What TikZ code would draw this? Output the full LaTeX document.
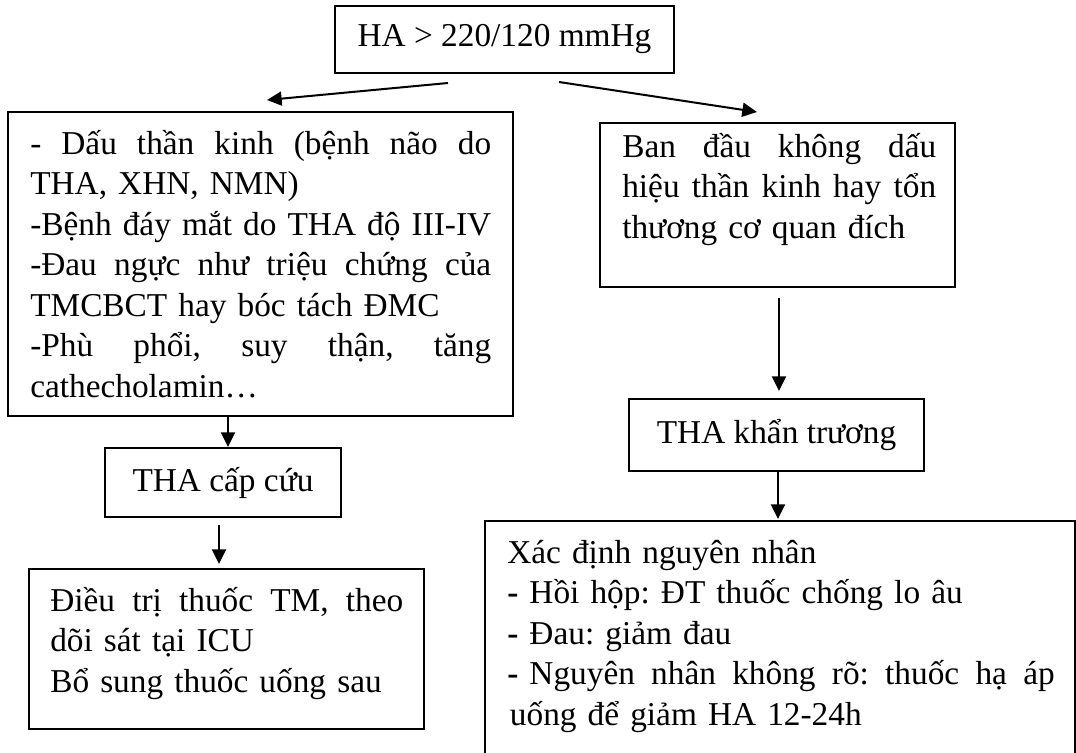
\documentclass[tikz,border=0pt]{standalone}
\usepackage{fontspec}
\setmainfont{Liberation Serif}
\usetikzlibrary{arrows.meta,fit}
\frenchspacing
\tikzset{
  box/.style={draw=black, line width=1.1pt, inner sep=0pt},
  lbl/.style={inner sep=0pt, font=\fontsize{25pt}{30.4pt}\selectfont\frenchspacing},
  para/.style={lbl, anchor=base west, align=left},
  arr/.style={line width=1.5pt, -{Triangle[length=11pt,width=10.5pt]}},
}
\begin{document}
\begin{tikzpicture}[x=0.75pt,y=-0.75pt]
\clip (0,0) rectangle (1076,753);
\fill[white] (0,0) rectangle (1076,753);
% boxes
\node[box, fit={(335,6) (674,73)}] (top) {};
\node[box, fit={(8,112) (513,416)}] (lbox) {};
\node[box, fit={(600,123) (955,287)}] (rbox) {};
\node[box, fit={(105,448) (341,517)}] (cc) {};
\node[box, fit={(629,399) (924,471)}] (kt) {};
\node[box, fit={(29,569) (424,729)}] (lbot) {};
\node[box, fit={(485,521) (1075,800)}] (rbot) {};
% texts
\node[lbl] (ttop) at (top.center) {HA > 220/120 mmHg};
\node[lbl] (tcc) at (cc.center) {THA cấp cứu};
\node[lbl] (tkt) at (kt.center) {THA khẩn trương};
\node[para, text width=345.75pt] (tlbox) at (30,154) {-\hfill Dấu\hfill thần\hfill kinh\hfill (bệnh\hfill não\hfill do\\
THA, XHN, NMN)\\
\mbox{-Bệnh đáy mắt do THA độ III-IV}\\
-Đau\hfill ngực\hfill như\hfill triệu\hfill chứng\hfill của\\
TMCBCT hay bóc tách ĐMC\\
-Phù\hfill phổi,\hfill suy\hfill thận,\hfill tăng\\
cathecholamin…};
\node[para, text width=235.5pt] (trbox) at (622,157) {Ban\hfill đầu\hfill không\hfill dấu\\
hiệu\hfill thần\hfill kinh\hfill hay\hfill tổn\\
thương cơ quan đích};
\node[para, text width=264.75pt] (tlbot) at (50,611) {Điều\hfill trị\hfill thuốc\hfill TM,\hfill theo\\
dõi sát tại ICU\\
Bổ sung thuốc uống sau};
\node[para, text width=410.6pt] (trbot) at (507,563) {Xác định nguyên nhân\\
\textbf{-} Hồi hộp: ĐT thuốc chống lo âu\\
\textbf{-} Đau: giảm đau\\
\textbf{-} Nguyên\hfill nhân\hfill không\hfill rõ:\hfill thuốc\hfill hạ\hfill áp\\
\hspace*{2pt}uống để giảm HA 12-24h};
% connector end points
\coordinate (a1s) at (448,83);
\coordinate (a1e) at (267,100);
\coordinate (a2s) at (559,82);
\coordinate (a2e) at (757,112);
\coordinate (a3s) at (228,416);
\coordinate (a3e) at (228,447);
\coordinate (a4s) at (219,525);
\coordinate (a4e) at (219,564);
\coordinate (a5s) at (779,298);
\coordinate (a5e) at (779,391);
\coordinate (a6s) at (778,471);
\coordinate (a6e) at (778,519);
\draw[arr] (a1s) -- (a1e);
\draw[arr] (a2s) -- (a2e);
\draw[arr] (a3s) -- (a3e);
\draw[arr] (a4s) -- (a4e);
\draw[arr] (a5s) -- (a5e);
\draw[arr] (a6s) -- (a6e);
\end{tikzpicture}
\end{document}
